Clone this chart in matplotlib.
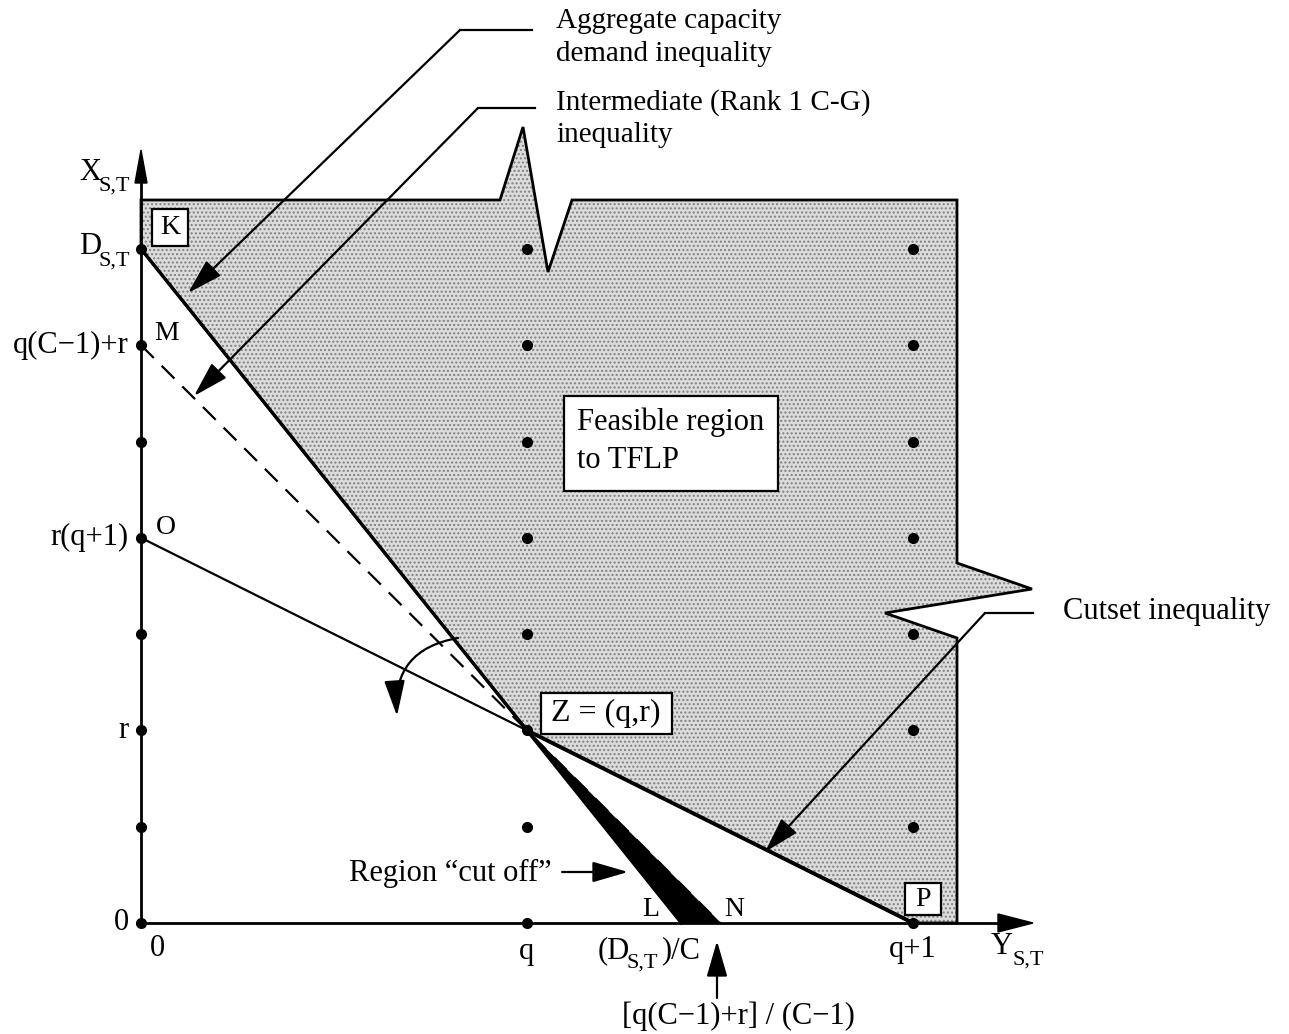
import matplotlib
matplotlib.use('Agg')
import matplotlib.pyplot as plt
from matplotlib.patches import Polygon, FancyArrowPatch, Rectangle

plt.rcParams['font.family'] = ['Liberation Serif', 'DejaVu Serif']
plt.rcParams['hatch.linewidth'] = 1.0
plt.rcParams['lines.scale_dashes'] = False

# ---- model values (q, r, C) ----
q_val = 1
r_val = 2
C_val = 5
D_val = q_val * C_val + r_val                      # D_{S,T}
M_val = q_val * (C_val - 1) + r_val                # q(C-1)+r
O_val = r_val * (q_val + 1)                        # r(q+1)
L_val = D_val / C_val                              # D/C
N_val = M_val / (C_val - 1)                        # [q(C-1)+r]/(C-1)

# integer lattice points drawn in the figure
col_x = [0, q_val, q_val + 1]
col_y = [0, 1, 2, 3, 4, 5, 6, 7]

ytick_vals = [0, r_val, O_val, M_val]
ytick_labels = ['0', 'r', 'r(q+1)', 'q(C\u22121)+r']

# ---- figure / pixel helper (layout only) ----
W, H = 1289, 1034
X0, Y0, SX, SY = 141, 923, 386, 96.3
fig = plt.figure(figsize=(W / 100, H / 100), dpi=100)
ax = fig.add_axes([0, 0, 1, 1])
ax.set_xlim(-X0 / SX, (W - X0) / SX)
ax.set_ylim((Y0 - H) / SY, Y0 / SY)
ax.axis('off')


def P(px, py):
    return ((px - X0) / SX, (Y0 - py) / SY)


FS = 22
SUB = 16
PL = 20

# ---- feasible region (shaded) ----
verts = [P(141, 200), P(500, 200), P(523, 127), P(548, 272), P(572, 200),
         P(957, 200), P(957, 563), P(1032, 589), P(885, 613), P(957, 638),
         P(957, 923), (q_val + 1, 0), (q_val, r_val), (0, D_val)]
ax.add_patch(Polygon(verts, closed=True, facecolor='#dcdcdc', edgecolor='#808080',
                     hatch='....', lw=0, zorder=1))
ax.add_patch(Polygon(verts, closed=True, facecolor='none', edgecolor='black',
                     lw=2.0, zorder=3, joinstyle='miter'))

# ---- region cut off (black sliver) ----
ax.add_patch(Polygon([(q_val, r_val), (L_val, 0), (N_val, 0)], closed=True,
                     facecolor='black', edgecolor='black', lw=1, zorder=4))

# ---- axes with arrows ----
ax.plot([0, 0], [0, P(0, 180)[1]], color='black', lw=2.0, zorder=5)
ax.add_patch(Polygon([P(141, 150), P(135, 183), P(147, 183)], closed=True,
                     color='black', zorder=5))
ax.plot([0, P(1000, 0)[0]], [0, 0], color='black', lw=2.0, zorder=5)
ax.add_patch(Polygon([P(1033, 923), P(998, 914), P(998, 932)], closed=True,
                     color='black', zorder=5))

# ---- inequality lines ----
ax.plot([0, L_val], [D_val, 0], color='black', lw=2.4, zorder=6)
ax.plot([0, q_val], [O_val, r_val], color='black', lw=1.6, zorder=6)
ax.plot([q_val, q_val + 1], [r_val, 0], color='black', lw=2.8, zorder=6)
ax.plot([0, N_val], [M_val, 0], color='black', lw=1.6, dashes=(13, 8), zorder=6)

# ---- lattice dots ----
for cx in col_x:
    ax.plot([cx] * len(col_y), col_y, 'o', color='black', ms=7, zorder=7)

# ---- y tick labels ----
for v, lab in zip(ytick_vals, ytick_labels):
    ax.text(P(129, 0)[0], v, lab, ha='right', va='center', fontsize=FS, zorder=8)
ax.text(P(101, 0)[0], P(0, 247)[1], 'D', ha='right', va='center', fontsize=FS)
ax.text(P(99, 0)[0], P(0, 261)[1], 'S,T', ha='left', va='center', fontsize=SUB)
ax.text(P(101, 0)[0], P(0, 172)[1], 'X', ha='right', va='center', fontsize=FS)
ax.text(P(99, 0)[0], P(0, 186)[1], 'S,T', ha='left', va='center', fontsize=SUB)

# ---- x tick labels ----
ax.text(P(157, 0)[0], P(0, 949)[1], '0', ha='center', va='center', fontsize=FS)
ax.text(q_val, P(0, 951)[1], 'q', ha='center', va='center', fontsize=FS)
ax.text(q_val + 1, P(0, 950)[1], 'q+1', ha='center', va='center', fontsize=FS)
ax.text(P(630, 0)[0], P(0, 951)[1], '(D', ha='right', va='center', fontsize=FS)
ax.text(P(627, 0)[0], P(0, 963)[1], 'S,T', ha='left', va='center', fontsize=SUB)
ax.text(P(661, 0)[0], P(0, 951)[1], ')/C', ha='left', va='center', fontsize=FS)
ax.text(P(1013, 0)[0], P(0, 946)[1], 'Y', ha='right', va='center', fontsize=FS)
ax.text(P(1012, 0)[0], P(0, 960)[1], 'S,T', ha='left', va='center', fontsize=SUB)
ax.text(P(738, 0)[0], P(0, 1016)[1], '[q(C\u22121)+r] / (C\u22121)', ha='center',
        va='center', fontsize=FS)

# ---- point labels ----
ax.text(*P(167, 333), 'M', ha='center', va='center', fontsize=PL)
ax.text(*P(166, 527), 'O', ha='center', va='center', fontsize=PL)
ax.text(*P(651, 910), 'L', ha='center', va='center', fontsize=PL)
ax.text(*P(734, 910), 'N', ha='center', va='center', fontsize=PL)

# ---- boxed labels ----
def box(x1, y1, x2, y2):
    a = P(x1, y2)
    b = P(x2, y1)
    ax.add_patch(Rectangle(a, b[0] - a[0], b[1] - a[1], facecolor='white',
                           edgecolor='black', lw=1.6, zorder=8))

box(152, 209, 188, 246)
ax.text(*P(170, 228), 'K', ha='center', va='center', fontsize=PL, zorder=9)
box(905, 883, 941, 915)
ax.text(*P(923, 899), 'P', ha='center', va='center', fontsize=PL, zorder=9)
box(541, 693, 672, 734)
ax.text(*P(606, 713), 'Z = (q,r)', ha='center', va='center', fontsize=23, zorder=9)
box(564, 396, 778, 491)
ax.text(*P(577, 422), 'Feasible region', ha='left', va='center', fontsize=FS, zorder=9)
ax.text(*P(577, 460), 'to TFLP', ha='left', va='center', fontsize=FS, zorder=9)

# ---- leader annotations ----
def arrow(p1, p2, lw=1.6, rad=0.0):
    ax.add_patch(FancyArrowPatch(p1, p2, arrowstyle='-|>,head_length=1.1,head_width=0.32',
                                 mutation_scale=20, color='black', lw=lw,
                                 shrinkA=0, shrinkB=0,
                                 connectionstyle='arc3,rad=%s' % rad, zorder=10))

LT = 21
# aggregate capacity demand inequality
ax.plot(*zip(P(532, 30), P(460, 30)), color='black', lw=1.6)
arrow(P(460, 30), P(188, 293))
ax.text(*P(556, 21), 'Aggregate capacity', ha='left', va='center', fontsize=LT)
ax.text(*P(556, 54), 'demand inequality', ha='left', va='center', fontsize=LT)
# intermediate inequality
ax.plot(*zip(P(535, 108), P(478, 108)), color='black', lw=1.6)
arrow(P(478, 108), P(194, 396))
ax.text(*P(556, 103), 'Intermediate (Rank 1 C-G)', ha='left', va='center', fontsize=LT)
ax.text(*P(556, 135), 'inequality', ha='left', va='center', fontsize=LT)
# cutset inequality
ax.plot(*zip(P(1033, 613), P(985, 613)), color='black', lw=1.6)
arrow(P(985, 613), P(765, 852))
ax.text(*P(1063, 612), 'Cutset inequality', ha='left', va='center', fontsize=22)
# region cut off
ax.text(*P(552, 873), 'Region \u201ccut off\u201d', ha='right', va='center', fontsize=22)
arrow(P(562, 872), P(628, 872))
# vertical arrow
arrow(P(717, 998), P(717, 941))
# curved rotation arrow
arrow(P(458, 638), P(397, 716), rad=0.45)

fig.savefig('out.png', dpi=100)
